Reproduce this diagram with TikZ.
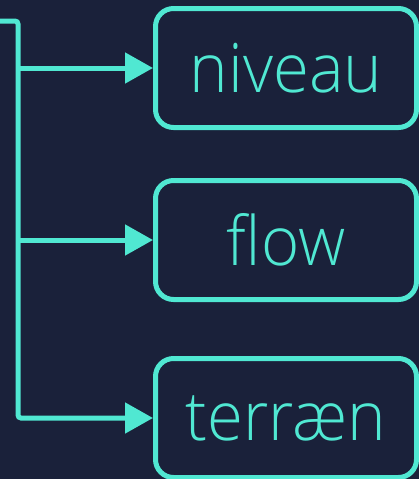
\documentclass[tikz,border=0pt]{standalone}
\usepackage{fontspec}
\setmainfont{Open Sans}[UprightFont=* Light, FakeStretch=0.96]
\usetikzlibrary{arrows.meta}
\definecolor{bg}{RGB}{26,33,58}
\definecolor{fg}{RGB}{80,232,210}
\begin{document}
\begin{tikzpicture}[x=1pt,y=-1pt,
  box/.style={draw=fg, line width=5pt, rounded corners=18pt, minimum width=261pt,
    minimum height=119pt, inner sep=0pt, anchor=west, text=fg,
    font=\fontsize{68}{78}\selectfont},
  conn/.style={draw=fg, line width=5pt},
  arr/.style={conn, -{Triangle[length=28pt,width=30pt]}}]
\fill[bg] (0,0) rectangle (419,479);
\useasboundingbox (0,0) rectangle (419,479);
\node[box] (b1) at (153,68) {niveau};
\node[box] (b2) at (153,240) {flow};
\node[box] (b3) at (153,418) {terræn};
\coordinate (s) at (0,21);
\coordinate (c) at (18,21);
\draw[arr, rounded corners=3pt] (s) -- (c) -- (c |- b3.west) -- (b3.west);
\draw[arr] (c |- b1.west) -- (b1.west);
\draw[arr] (c |- b2.west) -- (b2.west);
\end{tikzpicture}
\end{document}
